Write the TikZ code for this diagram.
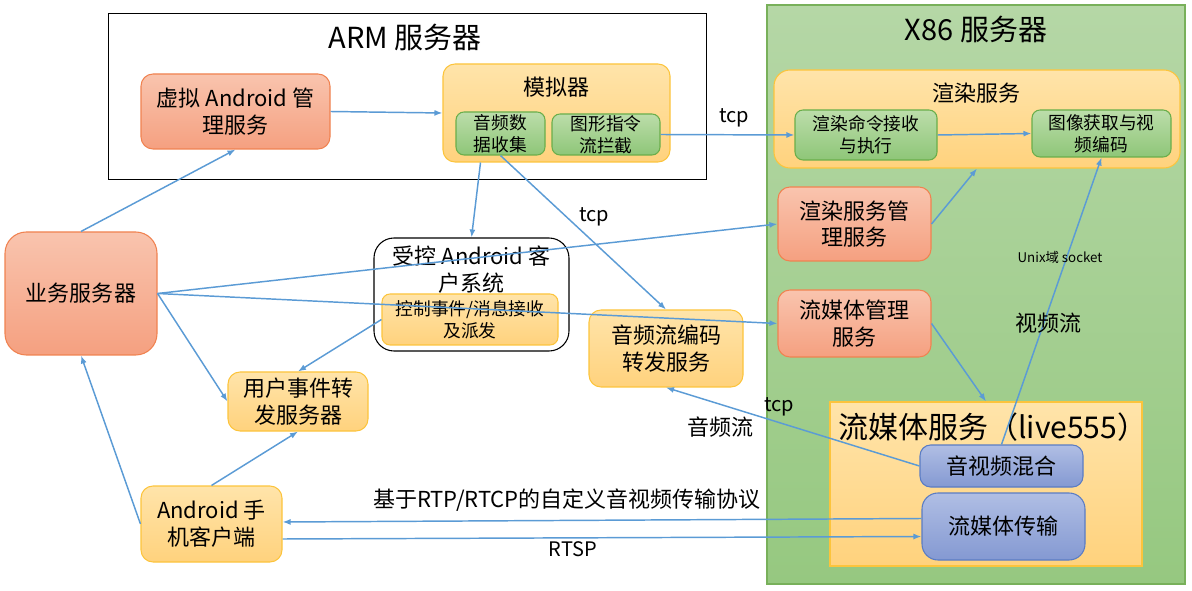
\documentclass[tikz,border=0pt]{standalone}
\usepackage{fontspec}
\setmainfont{Noto Sans CJK SC}
\usetikzlibrary{arrows.meta,calc}

\definecolor{lnblue}{RGB}{91,155,213}
\definecolor{ortop}{RGB}{249,196,174}
\definecolor{orbot}{RGB}{245,160,128}
\definecolor{orline}{RGB}{240,130,80}
\definecolor{yetop}{RGB}{255,228,170}
\definecolor{yebot}{RGB}{255,210,125}
\definecolor{yeline}{RGB}{252,196,60}
\definecolor{grtop}{RGB}{188,221,170}
\definecolor{grbot}{RGB}{142,198,120}
\definecolor{grline}{RGB}{106,174,74}
\definecolor{bltop}{RGB}{176,190,228}
\definecolor{blbot}{RGB}{132,153,210}
\definecolor{blline}{RGB}{90,124,196}
\definecolor{xtop}{RGB}{181,215,166}
\definecolor{xbot}{RGB}{150,200,128}
\definecolor{xline}{RGB}{120,176,90}

\begin{document}
\begin{tikzpicture}[x=0.75pt,y=0.75pt,yscale=-1,xscale=1,
	wh/.style 2 args={minimum width=#1*0.75pt,minimum height=#2*0.75pt},
	base/.style={inner sep=0pt,align=center,font=\fontsize{16.5}{20}\selectfont},
	obox/.style={base,draw=orline,top color=ortop,bottom color=orbot,rounded corners=9pt,line width=0.8pt},
	ybox/.style={base,draw=yeline,top color=yetop,bottom color=yebot,rounded corners=9pt,line width=0.8pt},
	gbox/.style={base,draw=grline,top color=grtop,bottom color=grbot,rounded corners=6pt,line width=0.8pt,font=\fontsize{13.3}{16.5}\selectfont},
	bbox/.style={base,draw=blline,top color=bltop,bottom color=blbot,rounded corners=8pt,line width=0.8pt},
	ttl/.style={inner sep=0pt,align=center,font=\fontsize{21.75}{26}\selectfont},
	lbl/.style={inner sep=0pt,align=center,font=\fontsize{15}{18}\selectfont},
	lnk/.style={draw=lnblue,line width=1.1pt,-{Latex[length=6pt,width=4.5pt]}}
	]
	\useasboundingbox (0,0) rectangle (1192,591);
	
	%ARM server
	\node [draw=black,fill=white,line width=0.7pt,inner sep=0pt,wh={598}{166}] (arm) at (407,96) {};
	\node [ttl] (armT) at (405,37) {ARM 服务器};
	%X86 server
	\node [draw=xline,top color=xtop,bottom color=xbot,line width=0.8pt,inner sep=0pt,wh={418}{579}] (x86) at (976,294.5) {};
	\node [ttl] (x86T) at (976,29) {X86 服务器};
	
	%left side
	\node [obox,wh={152}{123},rounded corners=16pt] (biz) at (81,293.5) {业务服务器};
	\node [obox,wh={189}{75}] (vmgr) at (235.5,111.5) {虚拟 Android 管\\理服务};
	\node [ybox,wh={140}{59}] (uev) at (298,401.5) {用户事件转\\发服务器};
	\node [ybox,wh={141}{76}] (phone) at (211.5,524) {Android 手\\机客户端};
	
	%emulator
	\node [ybox,wh={227}{98}] (emu) at (556.5,113) {};
	\node [base] (emuT) at (556.5,87) {模拟器};
	\node [gbox,wh={89}{43}] (audcol) at (500.5,133.5) {音频数\\据收集};
	\node [gbox,wh={108}{41}] (gfx) at (606,134.5) {图形指令\\流拦截};
	
	%controlled android
	\node [draw=black,fill=white,line width=0.8pt,inner sep=0pt,rounded corners=15pt,wh={195}{113}] (ctl) at (471.5,294.5) {};
	\node [base] (ctlT) at (471.5,269.5) {受控 Android 客\\户系统};
	\node [ybox,wh={176}{51},rounded corners=6pt,font=\fontsize{13.3}{16.5}\selectfont] (ctlev) at (470,319.5) {控制事件/消息接收\\及派发};
	\node [ybox,wh={154}{77}] (audenc) at (666,348.5) {音频流编码\\转发服务};
	
	%render service
	\node [ybox,wh={406}{98},rounded corners=12pt] (rsvc) at (977,119) {};
	\node [base] (rsvcT) at (976,93) {渲染服务};
	\node [gbox,wh={142}{50}] (rcmd) at (866,135) {渲染命令接收\\与执行};
	\node [gbox,wh={139}{47}] (imgenc) at (1101.5,133.5) {图像获取与视\\频编码};
	\node [obox,wh={153}{74}] (rmgr) at (854.5,224) {渲染服务管\\理服务};
	\node [obox,wh={153}{67}] (smgr) at (854.5,323.5) {流媒体管理\\服务};
	
	%streaming service
	\node [draw=yeline,top color=yetop,bottom color=yebot,line width=0.8pt,inner sep=0pt,wh={312}{164}] (ssvc) at (986,484) {};
	\node [inner sep=0pt,anchor=west,font=\fontsize{22.5}{26}\selectfont] (ssvcT) at (838,427) {流媒体服务（live555）};
	\node [bbox,wh={163}{42}] (avmix) at (1001.5,466) {音视频混合};
	\node [bbox,wh={163}{67},rounded corners=12pt] (strans) at (1003.5,526.5) {流媒体传输};
	
	%connectors
	\draw [lnk] (biz.north) -- (vmgr.south);
	\draw [lnk] (vmgr.east) -- (emu.west);
	\draw [lnk] ($(emu.south)+(-76,0)$) -- (ctl.north);
	\draw [lnk] (audcol.south) -- (audenc.north);
	\draw [lnk] (gfx.east) -- (rcmd.west);
	\draw [lnk] (rcmd.east) -- (imgenc.west);
	\draw [lnk] (biz.east) -- (rmgr.west);
	\draw [lnk] (biz.east) -- (smgr.west);
	\draw [lnk] (biz.east) -- (uev.west);
	\draw [lnk] (ctlev.west) -- (uev.north);
	\draw [lnk] (rmgr.east) -- (rsvc.south);
	\draw [lnk] (smgr.east) -- (ssvc.north);
	\draw [lnk] (avmix.north) -- (imgenc.south);
	\draw [lnk] (avmix.west) -- (audenc.south);
	\draw [lnk] ($(strans.west)+(0,-8)$) -- ($(phone.east)+(0,-2)$);
	\draw [lnk] ($(phone.east)+(0,15)$) -- ($(strans.west)+(0,10)$);
	\draw [lnk] (phone.north) -- (uev.south);
	\draw [lnk] (phone.west) -- (biz.south);
	
	%labels
	\node [lbl] (tcpA) at (594,217) {tcp};
	\node [lbl] (tcpB) at (734,118) {tcp};
	\node [lbl] (tcpC) at (779,407) {tcp};
	\node [lbl,font=\fontsize{16.5}{20}\selectfont] (audstr) at (720,427) {音频流};
	\node [lbl,font=\fontsize{10}{12}\selectfont] (unix) at (1060,257) {Unix域 socket};
	\node [lbl,font=\fontsize{16.5}{20}\selectfont] (vidstr) at (1048,323) {视频流};
	\node [lbl,font=\fontsize{16.5}{20}\selectfont] (rtp) at (567,500) {基于RTP/RTCP的自定义音视频传输协议};
	\node [lbl] (rtsp) at (573,549) {RTSP};
	
\end{tikzpicture}
\end{document}
